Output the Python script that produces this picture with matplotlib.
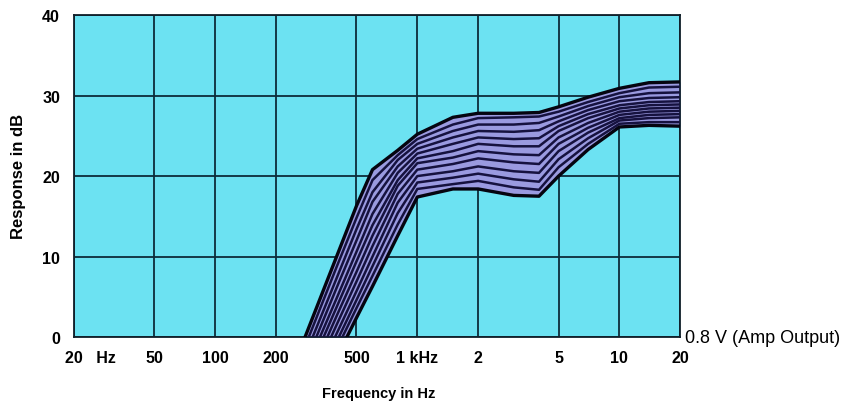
import matplotlib
matplotlib.use("Agg")
from matplotlib import pyplot as plt
from matplotlib.transforms import ScaledTranslation

plt.rcParams['font.family'] = ['Liberation Sans', 'DejaVu Sans']

# frequency grid (Hz) shared by every response curve
freq = [200, 300, 400, 500, 600, 800, 1000, 1500, 2000, 3000, 4000, 5000, 7000, 10000, 14000, 20000]

# response in dB, one list per curve (top of the band first)
curve_01 = [-9.2, 2.1, 10.1, 16.3, 20.8, 23.2, 25.2, 27.3, 27.8, 27.8, 27.9, 28.6, 29.8, 30.9, 31.6, 31.7]
curve_02 = [-10.1, 0.9, 8.8, 14.8, 19.5, 22.6, 24.6, 26.4, 27.2, 27.3, 27.4, 28.0, 29.2, 30.3, 31.0, 31.1]
curve_03 = [-11.1, -0.3, 7.4, 13.4, 18.0, 22.0, 24.0, 25.6, 26.4, 26.4, 26.6, 27.4, 28.7, 29.8, 30.3, 30.4]
curve_04 = [-12.0, -1.4, 6.2, 12.0, 16.8, 21.2, 23.4, 24.8, 25.6, 25.5, 25.7, 26.8, 28.2, 29.3, 29.7, 29.8]
curve_05 = [-12.8, -2.4, 4.9, 10.6, 15.3, 20.4, 22.8, 24.0, 24.8, 24.6, 24.7, 26.2, 27.7, 28.8, 29.2, 29.3]
curve_06 = [-13.6, -3.4, 3.8, 9.4, 13.9, 19.5, 22.2, 23.1, 24.0, 23.7, 23.7, 25.6, 27.2, 28.4, 28.8, 28.9]
curve_07 = [-14.3, -4.4, 2.7, 8.1, 12.6, 18.8, 21.6, 22.3, 23.1, 22.7, 22.6, 24.8, 26.6, 28.0, 28.4, 28.5]
curve_08 = [-15.0, -5.3, 1.6, 6.9, 11.3, 17.8, 20.8, 21.5, 22.2, 21.7, 21.5, 24.0, 26.0, 27.6, 28.0, 28.1]
curve_09 = [-15.7, -6.2, 0.5, 5.7, 10.0, 16.7, 20.0, 20.6, 21.2, 20.6, 20.4, 23.1, 25.4, 27.2, 27.6, 27.7]
curve_10 = [-16.3, -7.0, -0.5, 4.6, 8.8, 15.4, 19.2, 19.8, 20.3, 19.6, 19.3, 22.1, 24.7, 26.9, 27.2, 27.3]
curve_11 = [-16.8, -7.8, -1.4, 3.6, 7.6, 14.0, 18.4, 19.0, 19.4, 18.6, 18.3, 21.1, 24.0, 26.5, 26.7, 26.7]
curve_12 = [-17.5, -8.7, -2.5, 2.4, 6.3, 12.6, 17.4, 18.4, 18.4, 17.6, 17.5, 20.0, 23.3, 26.1, 26.3, 26.2]

curves = [curve_01, curve_02, curve_03, curve_04, curve_05, curve_06,
          curve_07, curve_08, curve_09, curve_10, curve_11, curve_12]

x_ticks = [20, 50, 100, 200, 500, 1000, 2000, 5000, 10000, 20000]
x_labels = ["20   Hz", "50", "100", "200", "500", "1 kHz", "2", "5", "10", "20"]
y_ticks = [0, 10, 20, 30, 40]

fig = plt.figure(figsize=(8.6, 4.02), dpi=100)
ax = fig.add_axes([0.086, 0.159, 0.705, 0.801])
ax.set_facecolor("#6ce2f2")

# band between the outer curves
ax.fill_between(freq, curves[0], curves[-1], color="#9a9ae0", zorder=2, lw=0)
for i, c in enumerate(curves):
    edge = i == 0 or i == len(curves) - 1
    ax.plot(freq, c, color="#050510" if edge else "#16123f",
            lw=2.4 if edge else 1.8, zorder=3)

ax.set_xscale("log")
ax.set_xlim(20, 20000)
ax.set_ylim(0, 40)
ax.set_xticks(x_ticks)
ax.set_xticklabels(x_labels)
ax.minorticks_off()
ax.set_yticks(y_ticks)
ax.grid(True, color="#0c2c3a", lw=1.3, zorder=1)
ax.set_axisbelow(True)
ax.tick_params(length=0, labelsize=11.5)
ax.tick_params(axis="x", pad=9)
ax.tick_params(axis="y", pad=10)
for lab in ax.get_xticklabels() + ax.get_yticklabels():
    lab.set_fontweight("bold")
first = ax.get_xticklabels()[0]
first.set_horizontalalignment("left")
first.set_transform(first.get_transform() + ScaledTranslation(-9 / 100, 0, fig.dpi_scale_trans))

for s in ax.spines.values():
    s.set_color("#10202a")
    s.set_linewidth(1.3)

ax.text(1.008, 0.0, "0.8 V (Amp Output)", transform=ax.transAxes,
        ha="left", va="center", fontsize=13)
fig.text(0.44, 0.02, "Frequency in Hz", ha="center", va="center",
         fontsize=10.5, fontweight="bold")
fig.text(0.021, 0.56, "Response in dB", ha="center", va="center",
         rotation=90, fontsize=12, fontweight="bold")

fig.savefig("out.png", dpi=100)
